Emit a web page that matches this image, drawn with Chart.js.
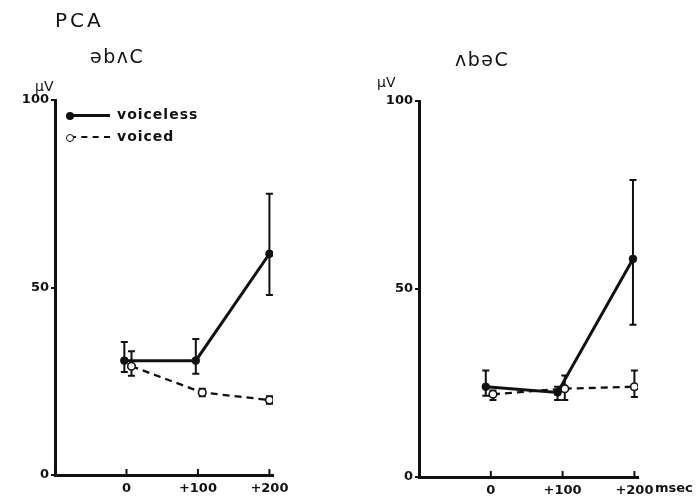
<!DOCTYPE html>
<html>
<head>
<meta charset="utf-8">
<script src="https://cdn.jsdelivr.net/npm/chart.js@4.4.1/dist/chart.umd.min.js"></script>
<style>
html,body{margin:0;padding:0;background:#fff;}
#wrap{position:relative;width:699px;height:503px;overflow:hidden;font-family:'DejaVu Sans',sans-serif;color:#111;}
canvas{position:absolute;top:0;}
#cLeft{left:0;}
#cRight{left:350px;}
.lbl{position:absolute;white-space:nowrap;line-height:1;}
.b{font-weight:bold;}
.leg{position:absolute;left:66px;height:14px;width:50px;}
.leg .ln{position:absolute;left:4px;top:6px;width:40px;height:0;border-top:3px solid #111;}
.leg .ln.dash{border-top:2.5px dashed #111;}
.leg .dot{position:absolute;left:0;top:4px;width:8px;height:8px;border-radius:50%;background:#111;box-sizing:border-box;}
.leg .dot.open{background:#fff;border:1.5px solid #111;}
</style>
</head>
<body>
<div id="wrap">
  <canvas id="cLeft" width="350" height="503"></canvas>
  <canvas id="cRight" width="349" height="503"></canvas>
  <div class="lbl" style="left:55px;top:10px;font-size:20px;letter-spacing:3px;">PCA</div>
  <div class="lbl" style="left:90px;top:47px;font-size:19px;letter-spacing:1.5px;">əbʌC</div>
  <div class="lbl" style="left:455px;top:50px;font-size:19px;letter-spacing:1.5px;">ʌbəC</div>
  <div class="lbl" style="left:35px;top:79px;font-size:14px;">μV</div>
  <div class="lbl" style="left:377px;top:75px;font-size:14px;">μV</div>
  <div class="lbl b" style="left:655px;top:481px;font-size:13px;">msec</div>
  <div class="leg" style="top:108px;"><div class="ln"></div><div class="dot"></div></div>
  <div class="lbl b" style="left:117px;top:107px;font-size:14px;letter-spacing:1px;">voiceless</div>
  <div class="leg" style="top:130px;"><div class="ln dash"></div><div class="dot open"></div></div>
  <div class="lbl b" style="left:117px;top:129px;font-size:14px;letter-spacing:1px;">voiced</div>
</div>
<script>
// ===== DATA =====
const X_TICKS=[0,100,200];
const X_TICK_LABELS=['0','+100','+200'];
const Y_TICKS=[0,50,100];

// left panel  (əbʌC)
const L_VL_X=[-3,97,200];
const L_VL_Y=[30.5,30.5,59];
const L_VL_HI=[35.5,36.3,75];
const L_VL_LO=[27.5,27,48];
const L_VD_X=[7,106,200];
const L_VD_Y=[29,22,20];
const L_VD_HI=[33,23,21];
const L_VD_LO=[26.5,21,19];

// right panel (ʌbəC)
const R_VL_X=[-7,93,198];
const R_VL_Y=[24,22.5,58];
const R_VL_HI=[28.3,24,79];
const R_VL_LO=[21.6,20.5,40.5];
const R_VD_X=[3,103,200];
const R_VD_Y=[22,23.5,24];
const R_VD_HI=[23,27,28.3];
const R_VD_LO=[20.5,20.5,21.3];

const INK='#111';
const FONT="'DejaVu Sans', sans-serif";

// error bars under the points
const errorBars={
  id:'errorBars',
  beforeDatasetsDraw(chart){
    const ctx=chart.ctx,xs=chart.scales.x,ys=chart.scales.y;
    ctx.save();
    ctx.strokeStyle=INK;ctx.lineWidth=2;
    chart.data.datasets.forEach(ds=>{
      ds.data.forEach((p,i)=>{
        const px=xs.getPixelForValue(p.x);
        const top=ys.getPixelForValue(ds.hi[i]),bot=ys.getPixelForValue(ds.lo[i]);
        ctx.beginPath();
        ctx.moveTo(px,top);ctx.lineTo(px,bot);
        ctx.moveTo(px-3.5,top);ctx.lineTo(px+3.5,top);
        ctx.moveTo(px-3.5,bot);ctx.lineTo(px+3.5,bot);
        ctx.stroke();
      });
    });
    ctx.restore();
  }
};
// small upward tick marks on the time axis
const upTicks={
  id:'upTicks',
  afterDraw(chart){
    const ctx=chart.ctx,xs=chart.scales.x,y0=chart.chartArea.bottom;
    ctx.save();ctx.strokeStyle=INK;ctx.lineWidth=2;
    X_TICKS.forEach(v=>{const px=xs.getPixelForValue(v);ctx.beginPath();ctx.moveTo(px,y0);ctx.lineTo(px,y0-6);ctx.stroke();});
    ctx.restore();
  }
};

function makeChart(id,vl,vd,pad,yW,xH){
  return new Chart(document.getElementById(id),{
    type:'scatter',
    data:{datasets:[
      {label:'voiceless',data:vl.x.map((x,i)=>({x,y:vl.y[i]})),hi:vl.hi,lo:vl.lo,showLine:true,
       borderColor:INK,borderWidth:3,backgroundColor:INK,pointRadius:3.8,pointBorderWidth:1,pointBorderColor:INK,pointBackgroundColor:INK},
      {label:'voiced',data:vd.x.map((x,i)=>({x,y:vd.y[i]})),hi:vd.hi,lo:vd.lo,showLine:true,
       borderColor:INK,borderWidth:2.3,borderDash:[7,5],backgroundColor:'#fff',pointRadius:3.8,pointBorderWidth:1.6,pointBorderColor:INK,pointBackgroundColor:'#fff'}
    ]},
    options:{
      responsive:false,animation:false,
      layout:{padding:pad},
      plugins:{legend:{display:false},tooltip:{enabled:false}},
      scales:{
        x:{type:'linear',min:-100,max:205,
          afterFit:s=>{s.height=xH},
          afterBuildTicks:s=>{s.ticks=X_TICKS.map(v=>({value:v}))},
          grid:{display:true,drawOnChartArea:false,drawTicks:false},
          border:{display:true,color:INK,width:3},
          ticks:{padding:6,color:INK,font:{family:FONT,size:13,weight:'bold'},callback:v=>X_TICK_LABELS[X_TICKS.indexOf(v)]||''}},
        y:{type:'linear',min:0,max:100,
          afterFit:s=>{s.width=yW},
          afterBuildTicks:s=>{s.ticks=Y_TICKS.map(v=>({value:v}))},
          grid:{display:true,drawOnChartArea:false,drawTicks:true,tickLength:4,color:INK,lineWidth:2},
          border:{display:true,color:INK,width:3},
          ticks:{padding:2,color:INK,font:{family:FONT,size:13,weight:'bold'},callback:v=>String(v)}}
      }
    },
    plugins:[errorBars,upTicks]
  });
}

makeChart('cLeft',
  {x:L_VL_X,y:L_VL_Y,hi:L_VL_HI,lo:L_VL_LO},
  {x:L_VD_X,y:L_VD_Y,hi:L_VD_HI,lo:L_VD_LO},
  {left:0,top:100,right:77,bottom:0},55,28);
makeChart('cRight',
  {x:R_VL_X,y:R_VL_Y,hi:R_VL_HI,lo:R_VL_LO},
  {x:R_VD_X,y:R_VD_Y,hi:R_VD_HI,lo:R_VD_LO},
  {left:0,top:101,right:61,bottom:0},69,26);
</script>
</body>
</html>
